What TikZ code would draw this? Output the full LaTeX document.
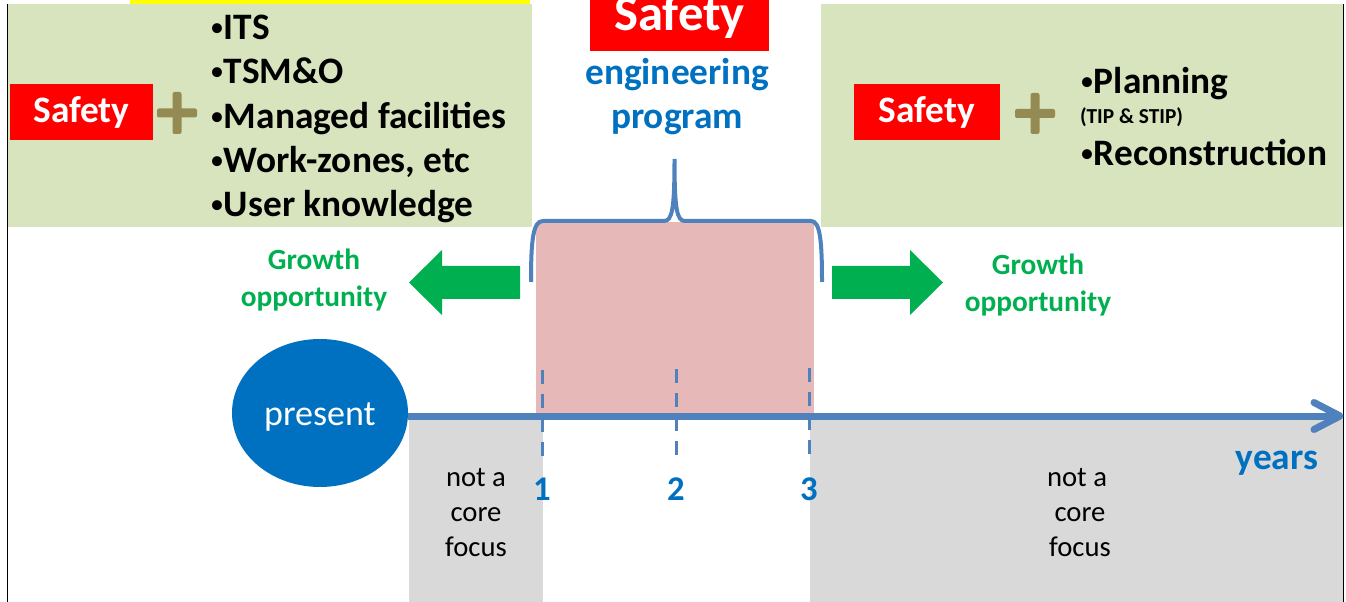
\documentclass[tikz,border=0pt]{standalone}
\usepackage{fontspec}
\setmainfont{Carlito}
\usetikzlibrary{shapes.geometric}
\definecolor{panelgreen}{HTML}{D7E4BD}
\definecolor{safered}{HTML}{FF0000}
\definecolor{plusolive}{HTML}{948A54}
\definecolor{textblue}{HTML}{0070C0}
\definecolor{lineblue}{HTML}{4F81BD}
\definecolor{pinkbox}{HTML}{E6B9B8}
\definecolor{graybox}{HTML}{D9D9D9}
\definecolor{growgreen}{HTML}{00B050}
\definecolor{topyellow}{HTML}{FFFF00}
\newcommand{\mybul}{{\fontsize{21}{21}\selectfont\mdseries\raisebox{2.5pt}{•}}}
\tikzset{
  every node/.style={inner sep=0pt, outer sep=0pt},
  panel/.style={fill=panelgreen},
  safetybox/.style={fill=safered, text=white, font=\fontsize{28}{30}\selectfont\bfseries, minimum height=42pt},
  plusarm/.style={fill=plusolive, rounded corners=1.5pt},
  bullet/.style={anchor=base west, font=\fontsize{28}{30}\selectfont\bfseries},
  growtext/.style={anchor=base, text=growgreen, font=\fontsize{22}{24}\selectfont\bfseries},
  growarrow/.style={fill=growgreen},
  nottext/.style={anchor=base, font=\fontsize{21.5}{24}\selectfont},
  axisline/.style={draw=lineblue, line width=5.25pt},
  tickline/.style={draw=lineblue, line width=2.8pt, dash pattern=on 10.5pt off 7.5pt},
  numtext/.style={anchor=base, text=textblue, font=\fontsize{26}{28}\selectfont\bfseries},
}
\begin{document}
\begin{tikzpicture}[x=0.75pt,y=-0.75pt]
\useasboundingbox (0,0) rectangle (1346,602);
% top yellow strip
\fill[topyellow] (130,0) rectangle (530,5);
% green panels
\fill[panel] (8,4) rectangle (532,227);
\fill[panel] (821,4) rectangle (1343,227);
% frame lines
\draw[black, line width=1.1pt] (7.5,4) -- (7.5,602);
\draw[black, line width=1.1pt] (1343.5,4) -- (1343.5,602);

% left panel
\node[safetybox, minimum width=107pt] (lsafety) at (81.5,112) {Safety};
\fill[plusarm] (157,108.5) rectangle (197,117.5);
\fill[plusarm] (172.5,92) rectangle (181.5,134);
\node[bullet] (its) at (210,39.5) {\mybul ITS};
\node[bullet] (tsmo) at (210,84) {\mybul TSM\&O};
\node[bullet] (managed) at (210,128.5) {\mybul Managed facilities};
\node[bullet] (work) at (210,172.5) {\mybul Work-zones, etc};
\node[bullet] (user) at (210,216.5) {\mybul User knowledge};

% right panel
\node[safetybox, minimum width=109pt] (rsafety) at (927,112) {Safety};
\fill[plusarm] (1015,109) rectangle (1055,118);
\fill[plusarm] (1030.5,93) rectangle (1039.5,134);
\node[bullet] (planning) at (1080,94) {\mybul Planning};
\node[anchor=base west, font=\fontsize{16}{18}\selectfont\bfseries] (tip) at (1080,123.5) {(TIP \& STIP)};
\node[bullet] (recon) at (1080,165.5) {\mybul Reconstruction};

% centre title
\fill[safered] (590,0) rectangle (769,51);
\node[anchor=base, text=white, font=\fontsize{38}{40}\selectfont\bfseries] (csafety) at (679.5,31) {Safety};
\node[anchor=base, text=textblue, font=\fontsize{28}{30}\selectfont\bfseries] (eng) at (677,85) {engineering};
\node[anchor=base, text=textblue, font=\fontsize{28}{30}\selectfont\bfseries] (prog) at (677,129) {program};

% pink and grey regions
\fill[pinkbox] (536,222) rectangle (814,420);
\fill[graybox] (409,418) rectangle (543,602);
\fill[graybox] (810,418) rectangle (1343,602);

% brace
\draw[lineblue, line width=3pt]
  (531,282) .. controls (531,240) and (533,221) .. (543,221)
  -- (664,221) .. controls (672,221) and (674.5,210) .. (674.5,159)
  .. controls (674.5,210) and (677,221) .. (685,221)
  -- (811,221) .. controls (820,221) and (822,240) .. (822,282);

% growth arrows
\fill[growarrow] (520,266) -- (442,266) -- (442,250) -- (409,282.5) -- (442,315) -- (442,299) -- (520,299) -- cycle;
\fill[growarrow] (832,266) -- (910,266) -- (910,250) -- (943,282.5) -- (910,315) -- (910,299) -- (832,299) -- cycle;
\node[growtext] (lgrow1) at (314,270) {Growth};
\node[growtext] (lgrow2) at (314,306) {opportunity};
\node[growtext] (rgrow1) at (1038,275) {Growth};
\node[growtext] (rgrow2) at (1038,311) {opportunity};

% present and axis
\node[ellipse, fill=textblue, minimum width=132pt, minimum height=111pt] (present) at (320,413) {};
\node[anchor=base, text=white, font=\fontsize{27}{29}\selectfont] (presenttext) at (320,425) {present};
\coordinate (axstart) at (present.east |- 0,416);
\coordinate (axend) at (1340,416);
\draw[axisline] (axstart) -- (axend);
\draw[axisline, line cap=round, line join=round] (1314,402.5) -- (axend) -- (1314,429.5);

% ticks
\draw[tickline] (542.5,370) -- (542.5,458);
\draw[tickline] (676.5,369) -- (676.5,457);
\draw[tickline] (809.5,368) -- (809.5,457);
\node[numtext] (n1) at (542,500) {1};
\node[numtext] (n2) at (676,500) {2};
\node[numtext] (n3) at (809,500) {3};
\node[anchor=base east, text=textblue, font=\fontsize{28}{30}\selectfont\bfseries] (years) at (1318,469) {years};

% not a core focus
\node[nottext] (lnot1) at (476,486) {not a};
\node[nottext] (lnot2) at (476,521) {core};
\node[nottext] (lnot3) at (476,556) {focus};
\node[nottext] (rnot1) at (1077,486) {not a};
\node[nottext] (rnot2) at (1080,521) {core};
\node[nottext] (rnot3) at (1080,556) {focus};
\end{tikzpicture}
\end{document}
